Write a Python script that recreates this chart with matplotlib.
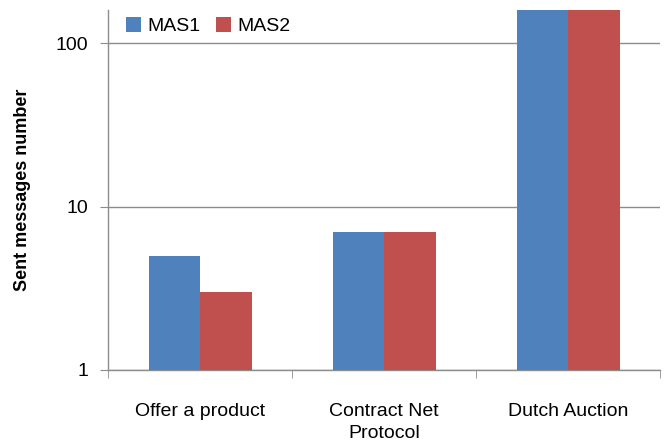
import numpy as np
import matplotlib
matplotlib.use('Agg')
import matplotlib.pyplot as plt
import matplotlib.ticker as tck

categories = ['Offer a product', 'Contract Net\nProtocol', 'Dutch Auction']
mas1 = [5, 7, 200]
mas2 = [3, 7, 200]

plt.rcParams['font.family'] = ['Liberation Sans', 'DejaVu Sans']

fig = plt.figure(figsize=(6.67, 4.42), dpi=100)
ax = fig.add_axes([0.162, 0.163, 0.828, 0.814])

x = np.arange(len(categories))
w = 0.28
ax.bar(x - w/2, mas1, w, color='#4F81BD', label='MAS1', zorder=3)
ax.bar(x + w/2, mas2, w, color='#C0504D', label='MAS2', zorder=3)

ax.set_yscale('log')
ax.set_ylim(1, 160)
ax.set_xlim(-0.5, 2.5)
ax.yaxis.set_major_locator(tck.FixedLocator([1, 10, 100]))
ax.yaxis.set_major_formatter(tck.FixedFormatter(['1', '10', '100']))
ax.yaxis.set_minor_locator(tck.NullLocator())
ax.grid(axis='y', color='#8c8c8c', lw=1, zorder=0)

ax.set_xticks(x)
ax.set_xticklabels(categories, fontsize=14, linespacing=1.35)
ax.set_xticks([-0.5, 0.5, 1.5, 2.5], minor=True)
ax.tick_params(axis='x', which='major', length=0, pad=24)
ax.tick_params(axis='x', which='minor', length=6, color='#8c8c8c')
ax.tick_params(axis='y', length=6, color='#8c8c8c', labelsize=14, pad=8)

for s in ['top', 'right']:
    ax.spines[s].set_visible(False)
for s in ['left', 'bottom']:
    ax.spines[s].set_color('#8c8c8c')
    ax.spines[s].set_linewidth(1)

ax.set_ylabel('Sent messages number', fontsize=13, fontweight='bold', labelpad=18)

ax.legend(loc='upper left', bbox_to_anchor=(0.0, 1.03), ncol=2, frameon=False,
          fontsize=14, handlelength=0.8, handleheight=0.8, handletextpad=0.3,
          columnspacing=0.8)

fig.savefig('out.png', dpi=100)
